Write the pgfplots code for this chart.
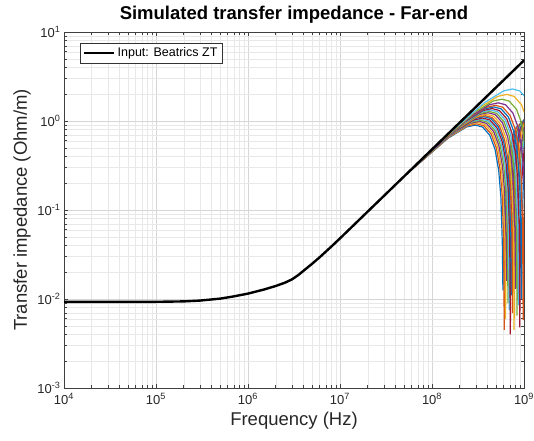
\documentclass[border=0pt]{standalone}
\usepackage{pgfplots}
\pgfplotsset{compat=1.18}
\usepackage{fontspec}
\setmainfont{Liberation Sans}
\definecolor{m1}{RGB}{0,114,189}
\definecolor{m2}{RGB}{217,83,25}
\definecolor{m3}{RGB}{237,177,32}
\definecolor{m4}{RGB}{126,47,142}
\definecolor{m5}{RGB}{119,172,48}
\definecolor{m6}{RGB}{77,190,238}
\definecolor{m7}{RGB}{162,20,47}
\begin{document}
\begin{tikzpicture}
\useasboundingbox (-64bp,-53bp) rectangle (470bp,388bp);
\begin{axis}[
  at={(0,0)}, anchor=south west,
  scale only axis, width=460bp, height=356bp,
  xmode=log, ymode=log, log basis x=10, log basis y=10,
  xmin=1e4, xmax=1e9, ymin=1e-3, ymax=1e1,
  grid=both,
  major grid style={black!16, line width=0.4bp},
  minor grid style={black!9, line width=0.4bp},
  axis line style={black!75, line width=0.5bp},
  tick style={black!75, line width=0.5bp},
  tick align=inside,
  xticklabel={10\textsuperscript{\pgfmathparse{int(round(\tick))}\pgfmathresult}},
  yticklabel={10\textsuperscript{\pgfmathparse{int(round(\tick))}\pgfmathresult}},
  ticklabel style={font=\fontsize{13bp}{15bp}\selectfont, text=black!85},
  xticklabel style={yshift=-2bp},
  xlabel={Frequency (Hz)},
  ylabel={Transfer impedance (Ohm/m)},
  xlabel style={at={(axis description cs:0.5,-0.0927)}, anchor=center, font=\fontsize{18.5bp}{21bp}\selectfont, text=black!85},
  ylabel style={at={(axis description cs:-0.0913,0.5)}, anchor=center, rotate=0, font=\fontsize{18.5bp}{21bp}\selectfont, text=black!85},
  title={Simulated transfer impedance - Far-end},
  title style={at={(axis description cs:0.5,1.031)}, anchor=center, font=\bfseries\fontsize{18.5bp}{21bp}\selectfont},
  legend style={at={(axis description cs:0.0348,0.969)}, anchor=north west, draw=black!80, line width=0.5bp, font=\fontsize{12.5bp}{15bp}\selectfont, inner xsep=3bp, inner ysep=2.5bp},
  legend cell align=left,
  legend image code/.code={\draw[#1, line width=2.4bp] (0bp,0bp) -- (30bp,0bp);},
  every axis plot/.append style={line width=1.2bp},
]
% colored simulated curves
\addplot[m1, forget plot] coordinates {(0.59e8,0.278)(1.475e8,0.636)(2.36e8,0.856)(2.95e8,0.90)(3.54e8,0.856)(4.248e8,0.693)(4.838e8,0.482)(5.31e8,0.278)(5.605e8,0.140)(5.812e8,0.0424)(5.9e8,0.0125)(5.989e8,0.0424)(6.195e8,0.140)(6.608e8,0.331)(7.375e8,0.636)(8.26e8,0.856)(9.145e8,0.889)(10.03e8,0.728)};
\addplot[m2, forget plot] coordinates {(0.61e8,0.287)(1.525e8,0.658)(2.44e8,0.884)(3.05e8,0.93)(3.66e8,0.884)(4.392e8,0.716)(5.002e8,0.498)(5.49e8,0.287)(5.795e8,0.145)(6.009e8,0.0438)(6.1e8,0.0045)(6.192e8,0.0438)(6.405e8,0.145)(6.832e8,0.342)(7.625e8,0.658)(8.54e8,0.884)(9.455e8,0.919)(10.37e8,0.752)};
\addplot[m3, forget plot] coordinates {(0.63e8,0.297)(1.575e8,0.679)(2.52e8,0.913)(3.15e8,0.96)(3.78e8,0.913)(4.536e8,0.739)(5.166e8,0.515)(5.67e8,0.297)(5.985e8,0.150)(6.206e8,0.0452)(6.3e8,0.006)(6.395e8,0.0452)(6.615e8,0.150)(7.056e8,0.353)(7.875e8,0.679)(8.82e8,0.913)(9.765e8,0.948)(10.71e8,0.777)};
\addplot[m4, forget plot] coordinates {(0.65e8,0.306)(1.625e8,0.700)(2.6e8,0.941)(3.25e8,0.99)(3.9e8,0.941)(4.68e8,0.762)(5.33e8,0.531)(5.85e8,0.306)(6.175e8,0.154)(6.403e8,0.0466)(6.5e8,0.016)(6.598e8,0.0466)(6.825e8,0.154)(7.28e8,0.364)(8.125e8,0.700)(9.1e8,0.941)(10.075e8,0.978)(11.05e8,0.801)};
\addplot[m5, forget plot] coordinates {(0.67e8,0.315)(1.675e8,0.721)(2.68e8,0.970)(3.35e8,1.02)(4.02e8,0.970)(4.824e8,0.785)(5.494e8,0.547)(6.03e8,0.315)(6.365e8,0.159)(6.6e8,0.048)(6.7e8,0.009)(6.801e8,0.048)(7.035e8,0.159)(7.504e8,0.375)(8.375e8,0.721)(9.38e8,0.970)(10.385e8,1.008)(11.39e8,0.825)};
\addplot[m6, forget plot] coordinates {(0.69e8,0.324)(1.725e8,0.742)(2.76e8,0.999)(3.45e8,1.05)(4.14e8,0.999)(4.968e8,0.809)(5.658e8,0.563)(6.21e8,0.324)(6.555e8,0.164)(6.797e8,0.0495)(6.9e8,0.0075)(7.004e8,0.0495)(7.245e8,0.164)(7.728e8,0.386)(8.625e8,0.742)(9.66e8,0.999)(10.695e8,1.037)(11.73e8,0.849)};
\addplot[m7, forget plot] coordinates {(0.71e8,0.334)(1.775e8,0.764)(2.84e8,1.027)(3.55e8,1.08)(4.26e8,1.027)(5.112e8,0.832)(5.822e8,0.579)(6.39e8,0.334)(6.745e8,0.168)(6.994e8,0.0509)(7.1e8,0.004)(7.207e8,0.0509)(7.455e8,0.168)(7.952e8,0.397)(8.875e8,0.764)(9.94e8,1.027)(11.005e8,1.067)(12.07e8,0.874)};
\addplot[m1, forget plot] coordinates {(0.73e8,0.346)(1.825e8,0.792)(2.92e8,1.065)(3.65e8,1.12)(4.38e8,1.065)(5.256e8,0.862)(5.986e8,0.600)(6.57e8,0.346)(6.935e8,0.175)(7.191e8,0.0528)(7.3e8,0.011)(7.41e8,0.0528)(7.665e8,0.175)(8.176e8,0.412)(9.125e8,0.792)(10.22e8,1.065)};
\addplot[m2, forget plot] coordinates {(0.75e8,0.355)(1.875e8,0.813)(3.0e8,1.094)(3.75e8,1.15)(4.5e8,1.094)(5.4e8,0.886)(6.15e8,0.616)(6.75e8,0.355)(7.125e8,0.179)(7.388e8,0.0542)(7.5e8,0.007)(7.613e8,0.0542)(7.875e8,0.179)(8.4e8,0.423)(9.375e8,0.813)(10.5e8,1.094)};
\addplot[m3, forget plot] coordinates {(0.78e8,0.368)(1.95e8,0.841)(3.12e8,1.132)(3.9e8,1.19)(4.68e8,1.132)(5.616e8,0.916)(6.396e8,0.638)(7.02e8,0.368)(7.41e8,0.186)(7.683e8,0.056)(7.8e8,0.0045)(7.917e8,0.056)(8.19e8,0.186)(8.736e8,0.438)(9.75e8,0.841)(10.92e8,1.132)};
\addplot[m4, forget plot] coordinates {(0.81e8,0.383)(2.025e8,0.877)(3.24e8,1.179)(4.05e8,1.24)(4.86e8,1.179)(5.832e8,0.955)(6.642e8,0.665)(7.29e8,0.383)(7.695e8,0.193)(7.979e8,0.0584)(8.1e8,0.013)(8.222e8,0.0584)(8.505e8,0.193)(9.072e8,0.456)(10.125e8,0.877)};
\addplot[m5, forget plot] coordinates {(0.84e8,0.396)(2.1e8,0.905)(3.36e8,1.217)(4.2e8,1.28)(5.04e8,1.217)(6.048e8,0.986)(6.888e8,0.686)(7.56e8,0.396)(7.98e8,0.200)(8.274e8,0.0603)(8.4e8,0.0065)(8.526e8,0.0603)(8.82e8,0.200)(9.408e8,0.471)(10.5e8,0.905)};
\addplot[m6, forget plot] coordinates {(0.87e8,0.411)(2.175e8,0.940)(3.48e8,1.265)(4.35e8,1.33)(5.22e8,1.265)(6.264e8,1.024)(7.134e8,0.713)(7.83e8,0.411)(8.265e8,0.207)(8.57e8,0.0626)(8.7e8,0.0085)(8.831e8,0.0626)(9.135e8,0.207)(9.744e8,0.489)(10.875e8,0.940)};
\addplot[m7, forget plot] coordinates {(0.9e8,0.426)(2.25e8,0.976)(3.6e8,1.312)(4.5e8,1.38)(5.4e8,1.312)(6.48e8,1.063)(7.38e8,0.740)(8.1e8,0.426)(8.55e8,0.215)(8.865e8,0.065)(9.0e8,0.0048)(9.135e8,0.065)(9.45e8,0.215)(10.08e8,0.508)};
\addplot[m1, forget plot] coordinates {(0.94e8,0.445)(2.35e8,1.018)(3.76e8,1.369)(4.7e8,1.44)(5.64e8,1.369)(6.768e8,1.109)(7.708e8,0.772)(8.46e8,0.445)(8.93e8,0.225)(9.259e8,0.0678)(9.4e8,0.010)(9.541e8,0.0678)(9.87e8,0.225)(10.528e8,0.530)};
\addplot[m2, forget plot] coordinates {(0.98e8,0.464)(2.45e8,1.061)(3.92e8,1.427)(4.9e8,1.50)(5.88e8,1.427)(7.056e8,1.155)(8.036e8,0.804)(8.82e8,0.464)(9.31e8,0.234)(9.653e8,0.0707)(9.8e8,0.0058)(9.947e8,0.0707)(10.29e8,0.234)};
\addplot[m4, forget plot] coordinates {(1.05e8,0.494)(2.625e8,1.131)(4.2e8,1.522)(5.25e8,1.60)(6.3e8,1.522)(7.56e8,1.232)(8.61e8,0.858)(9.45e8,0.494)(9.975e8,0.250)(10.343e8,0.0754)};
\addplot[m5, forget plot] coordinates {(1.15e8,0.544)(2.875e8,1.244)(4.6e8,1.674)(5.75e8,1.76)(6.9e8,1.674)(8.28e8,1.355)(9.43e8,0.943)(10.35e8,0.544)};
\addplot[m3, forget plot] coordinates {(1.3e8,0.615)(3.25e8,1.407)(5.2e8,1.892)(6.5e8,1.99)(7.8e8,1.892)(9.36e8,1.532)(10.66e8,1.067)};
\addplot[m6, forget plot] coordinates {(1.5e8,0.708)(3.75e8,1.619)(6.0e8,2.178)(7.5e8,2.29)(9.0e8,2.178)(10.8e8,1.763)};
% input Beatrics ZT
\addplot[black, line width=2.4bp] coordinates {(1e4,0.0093)(1e5,0.0093)(2e5,0.0094)(3e5,0.0096)(5e5,0.0101)(7e5,0.0107)(1e6,0.0115)(1.5e6,0.0128)(2e6,0.0140)(2.5e6,0.0152)(3e6,0.0166)(3.5e6,0.0185)(4e6,0.0207)(5e6,0.0250)(6e6,0.0294)(8e6,0.0386)(1e7,0.048)(1e8,0.48)(1e9,4.8)};
\addlegendentry{Input: Beatrics ZT}
\end{axis}
\end{tikzpicture}
\end{document}
